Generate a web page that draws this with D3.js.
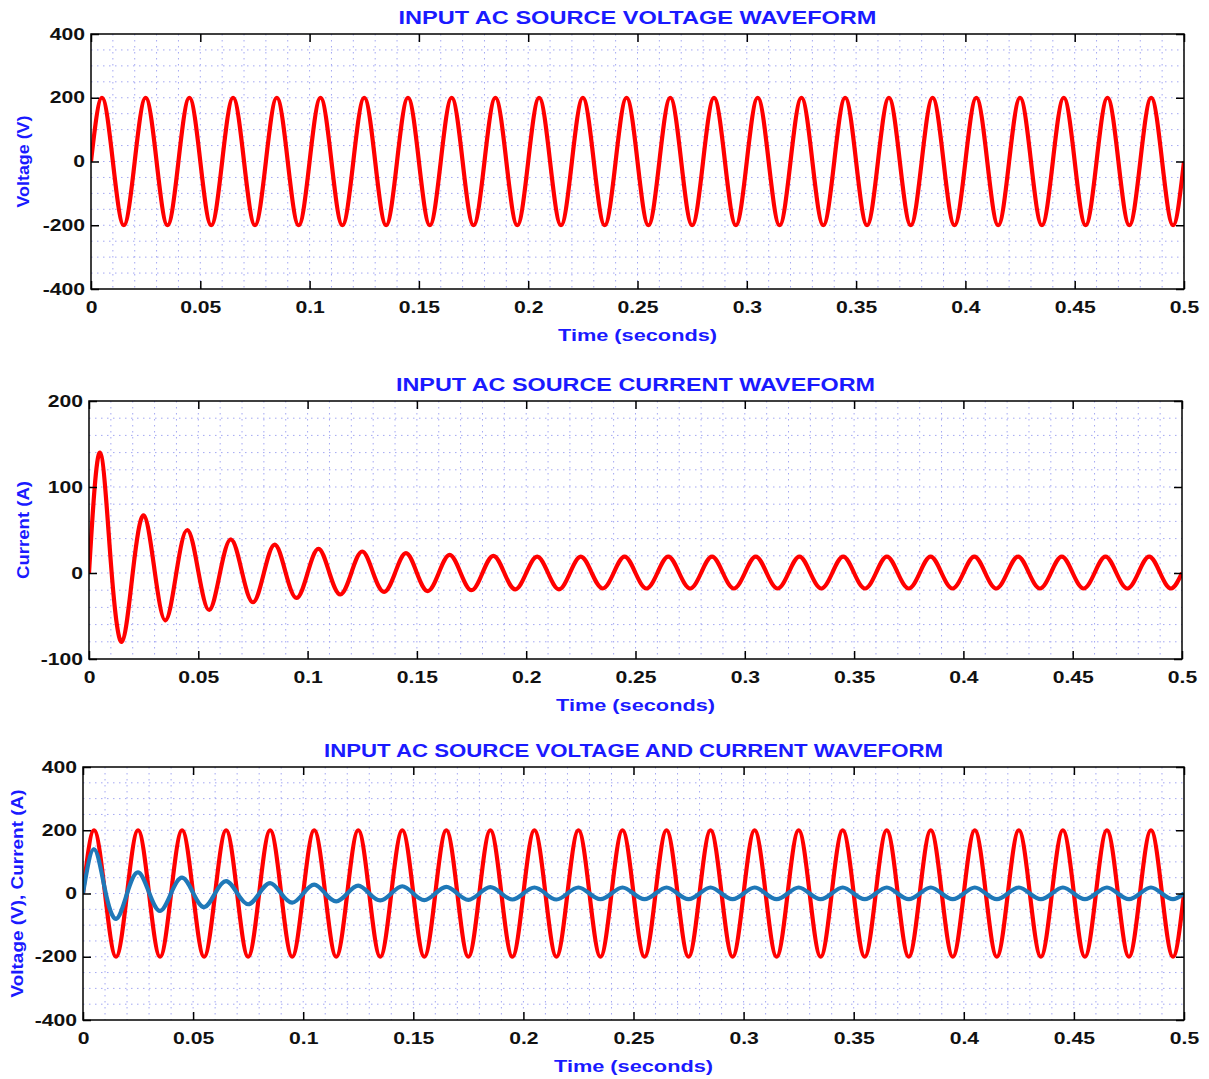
<!DOCTYPE html>
<html>
<head>
<meta charset="utf-8">
<script src="https://cdn.jsdelivr.net/npm/d3@7"></script>
<style>
  body { margin: 0; background: #fff; }
  text { font-family: "Liberation Sans", Arial, sans-serif; font-weight: bold; }
</style>
</head>
<body>
<div id="chart-area"></div>
<script>
// sample instants (ms), one every quarter cycle of the 50 Hz supply
const timeMs = [
  0, 5, 10, 15, 20, 25, 30, 35, 40, 45, 50, 55, 60, 65, 70, 75, 80, 85, 90, 95,
  100, 105, 110, 115, 120, 125, 130, 135, 140, 145, 150, 155, 160, 165, 170, 175, 180, 185, 190, 195,
  200, 205, 210, 215, 220, 225, 230, 235, 240, 245, 250, 255, 260, 265, 270, 275, 280, 285, 290, 295,
  300, 305, 310, 315, 320, 325, 330, 335, 340, 345, 350, 355, 360, 365, 370, 375, 380, 385, 390, 395,
  400, 405, 410, 415, 420, 425, 430, 435, 440, 445, 450, 455, 460, 465, 470, 475, 480, 485, 490, 495,
  500
];

// source voltage (V) read at those instants
const voltage = [
  0, 200, 0, -200, 0, 200, 0, -200, 0, 200, 0, -200, 0, 200, 0, -200, 0, 200, 0, -200,
  0, 200, 0, -200, 0, 200, 0, -200, 0, 200, 0, -200, 0, 200, 0, -200, 0, 200, 0, -200,
  0, 200, 0, -200, 0, 200, 0, -200, 0, 200, 0, -200, 0, 200, 0, -200, 0, 200, 0, -200,
  0, 200, 0, -200, 0, 200, 0, -200, 0, 200, 0, -200, 0, 200, 0, -200, 0, 200, 0, -200,
  0, 200, 0, -200, 0, 200, 0, -200, 0, 200, 0, -200, 0, 200, 0, -200, 0, 200, 0, -200,
  0
];

// source current (A) read at those instants
const current = [
  0, 140, 12, -80, 0, 67, 3, -55, 1, 50, 2, -43, 1, 39, 1, -34, 0, 33, 0, -29,
  0, 28, 0, -25, 0, 25, 0, -22, 0, 23, 0, -21, 0, 21, 0, -20, 0, 20, 0, -19,
  0, 19, 0, -19, 0, 19, 0, -18, 0, 19, 0, -18, 0, 19, 0, -18, 0, 19, 0, -18,
  0, 19, 0, -18, 0, 19, 0, -18, 0, 19, 0, -18, 0, 19, 0, -18, 0, 19, 0, -18,
  0, 19, 0, -18, 0, 19, 0, -18, 0, 19, 0, -18, 0, 19, 0, -18, 0, 19, 0, -18,
  0
];

const xTicks = [0, 0.05, 0.1, 0.15, 0.2, 0.25, 0.3, 0.35, 0.4, 0.45, 0.5];
const voltTicks = [-400, -200, 0, 200, 400];
const currTicks = [-100, 0, 100, 200];

const W = 1209, H = 1079;
const svg = d3.select("#chart-area")
  .append("svg")
  .attr("width", W)
  .attr("height", H);

const toSeries = vals => vals.map((v, i) => ({ t: timeMs[i] / 1000, v: v }));

const panels = [
  {
    box: { left: 91, right: 1184, top: 34, bottom: 289 },
    title: "INPUT AC SOURCE VOLTAGE WAVEFORM", titleW: 478,
    ylabel: "Voltage (V)", ylabelX: 23, ylabelW: 92,
    yDomain: [-400, 400], yTicks: voltTicks, gridStep: 50,
    series: [{ data: toSeries(voltage), color: "#ff0000" }]
  },
  {
    box: { left: 89, right: 1182, top: 401, bottom: 659 },
    title: "INPUT AC SOURCE CURRENT WAVEFORM", titleW: 479,
    ylabel: "Current (A)", ylabelX: 23, ylabelW: 98,
    yDomain: [-100, 200], yTicks: currTicks, gridStep: 20,
    series: [{ data: toSeries(current), color: "#ff0000" }]
  },
  {
    box: { left: 83, right: 1184, top: 767, bottom: 1020 },
    title: "INPUT AC SOURCE VOLTAGE AND CURRENT WAVEFORM", titleW: 619,
    ylabel: "Voltage (V), Current (A)", ylabelX: 17, ylabelW: 208,
    yDomain: [-400, 400], yTicks: voltTicks, gridStep: 50,
    series: [
      { data: toSeries(voltage), color: "#ff0000" },
      { data: toSeries(current), color: "#1f78b8" }
    ]
  }
];

panels.forEach((p, idx) => drawPanel(p, idx));

// the original lettering is wide, so stretch labels to the measured width
function widen(sel, factor) {
  sel.each(function() {
    const w = this.getComputedTextLength();
    d3.select(this).attr("textLength", w * factor).attr("lengthAdjust", "spacingAndGlyphs");
  });
}

function drawPanel(p, idx) {
  const b = p.box;
  const x = d3.scaleLinear().domain([0, 0.5]).range([b.left, b.right]);
  const y = d3.scaleLinear().domain(p.yDomain).range([b.bottom, b.top]);
  const g = svg.append("g");

  g.append("rect")
    .attr("x", b.left).attr("y", b.top)
    .attr("width", b.right - b.left).attr("height", b.bottom - b.top)
    .attr("fill", "#fff");

  // dotted grid
  const grid = g.append("g")
    .attr("stroke", "#a3a7f2")
    .attr("stroke-width", 1)
    .attr("stroke-dasharray", "1.5,4.5");
  grid.selectAll(".gx")
    .data(d3.range(0.01, 0.5, 0.01))
    .enter().append("line")
    .attr("x1", d => x(d)).attr("x2", d => x(d))
    .attr("y1", b.top).attr("y2", b.bottom);
  const yMin = p.yDomain[0], yMax = p.yDomain[1];
  grid.selectAll(".gy")
    .data(d3.range(yMin + p.gridStep, yMax, p.gridStep))
    .enter().append("line")
    .attr("y1", d => y(d)).attr("y2", d => y(d))
    .attr("x1", b.left).attr("x2", b.right);

  // clipped curves
  const clipId = "clip" + idx;
  svg.append("clipPath").attr("id", clipId)
    .append("rect")
    .attr("x", b.left).attr("y", b.top)
    .attr("width", b.right - b.left).attr("height", b.bottom - b.top);

  const line = d3.line()
    .x(d => x(d.t))
    .y(d => y(d.v))
    .curve(d3.curveNatural);

  p.series.forEach(s => {
    g.append("path")
      .datum(s.data)
      .attr("clip-path", `url(#${clipId})`)
      .attr("fill", "none")
      .attr("stroke", s.color)
      .attr("stroke-width", 4.2)
      .attr("stroke-linejoin", "round")
      .attr("d", line);
  });

  // axes with inward ticks on all four sides
  const fmt = d => String(+d.toFixed(2));
  const styleLabels = a => a.selectAll("text")
    .attr("font-size", 16).attr("fill", "#111")
    .attr("font-family", '"Liberation Sans", Arial, sans-serif')
    .call(widen, 1.32);

  g.append("g")
    .attr("transform", `translate(0,${b.bottom})`)
    .call(d3.axisBottom(x).tickValues(xTicks).tickFormat(fmt)
      .tickSizeInner(-8).tickSizeOuter(0).tickPadding(13))
    .call(a => a.select(".domain").remove())
    .call(styleLabels);
  g.append("g")
    .attr("transform", `translate(0,${b.top})`)
    .call(d3.axisTop(x).tickValues(xTicks).tickFormat("")
      .tickSizeInner(-8).tickSizeOuter(0))
    .call(a => a.select(".domain").remove());
  g.append("g")
    .attr("transform", `translate(${b.left},0)`)
    .call(d3.axisLeft(y).tickValues(p.yTicks).tickFormat(fmt)
      .tickSizeInner(-8).tickSizeOuter(0).tickPadding(6))
    .call(a => a.select(".domain").remove())
    .call(styleLabels);
  g.append("g")
    .attr("transform", `translate(${b.right},0)`)
    .call(d3.axisRight(y).tickValues(p.yTicks).tickFormat("")
      .tickSizeInner(-8).tickSizeOuter(0))
    .call(a => a.select(".domain").remove());

  g.selectAll(".tick line").attr("stroke", "#000").attr("stroke-width", 1.5);

  g.append("rect")
    .attr("x", b.left).attr("y", b.top)
    .attr("width", b.right - b.left).attr("height", b.bottom - b.top)
    .attr("fill", "none")
    .attr("stroke", "#000")
    .attr("stroke-width", 1.5);

  // labels
  const cx = (b.left + b.right) / 2;
  g.append("text")
    .attr("x", cx).attr("y", b.top - 10)
    .attr("text-anchor", "middle")
    .attr("font-size", 18)
    .attr("fill", "#1a1aff")
    .attr("textLength", p.titleW)
    .attr("lengthAdjust", "spacingAndGlyphs")
    .text(p.title);
  g.append("text")
    .attr("x", cx).attr("y", b.bottom + 52)
    .attr("text-anchor", "middle")
    .attr("font-size", 17)
    .attr("fill", "#1a1aff")
    .attr("textLength", 159)
    .attr("lengthAdjust", "spacingAndGlyphs")
    .text("Time (seconds)");
  g.append("text")
    .attr("transform", `translate(${p.ylabelX},${(b.top + b.bottom) / 2}) rotate(-90)`)
    .attr("text-anchor", "middle")
    .attr("dy", "0.35em")
    .attr("font-size", 17)
    .attr("fill", "#1a1aff")
    .attr("textLength", p.ylabelW)
    .attr("lengthAdjust", "spacingAndGlyphs")
    .text(p.ylabel);
}
</script>
</body>
</html>
